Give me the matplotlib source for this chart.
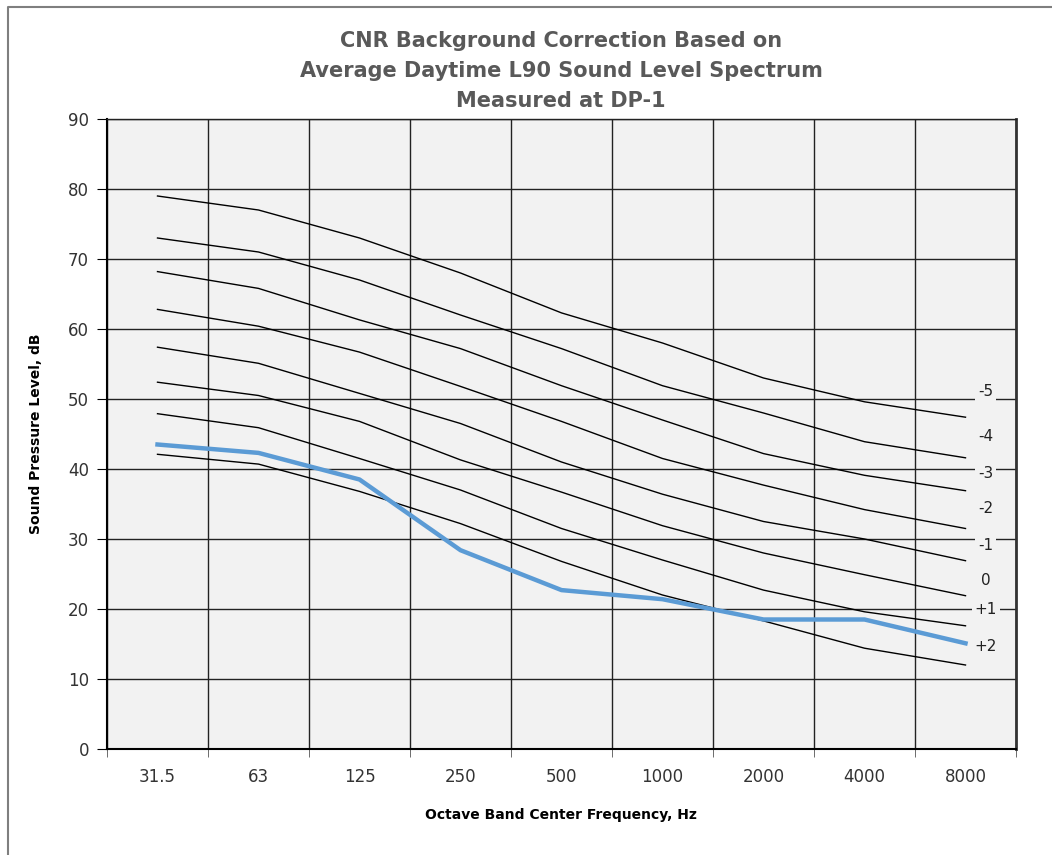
import numpy as np
import matplotlib.pyplot as plt
from matplotlib.lines import Line2D

freqs = ['31.5', '63', '125', '250', '500', '1000', '2000', '4000', '8000']

# CNR correction curves, dB
curve_labels = ['-5', '-4', '-3', '-2', '-1', '0', '+1', '+2']
curve_m5 = [79, 77, 73, 68, 62.3, 58, 53, 49.6, 47.4]
curve_m4 = [73, 71, 67, 62, 57.2, 51.9, 48, 43.9, 41.6]
curve_m3 = [68.2, 65.8, 61.3, 57.2, 51.9, 47, 42.2, 39.1, 36.9]
curve_m2 = [62.8, 60.4, 56.7, 51.8, 46.8, 41.5, 37.7, 34.2, 31.5]
curve_m1 = [57.4, 55.1, 50.8, 46.5, 41, 36.4, 32.5, 30, 26.9]
curve_0 = [52.4, 50.5, 46.8, 41.3, 36.7, 31.9, 28, 24.9, 21.9]
curve_p1 = [47.9, 45.9, 41.5, 37, 31.5, 27, 22.7, 19.6, 17.6]
curve_p2 = [42.1, 40.7, 36.8, 32.2, 26.8, 22, 18.3, 14.4, 12]
curves = [curve_m5, curve_m4, curve_m3, curve_m2, curve_m1, curve_0, curve_p1, curve_p2]
label_y = [51, 44.6, 39.4, 34.4, 29.1, 24.1, 20, 14.6]

# measured L90 spectrum
l90 = [43.5, 42.3, 38.5, 28.4, 22.7, 21.4, 18.5, 18.5, 15.1]

plt.rcParams['font.family'] = ['DejaVu Sans']

fig = plt.figure(figsize=(10.52, 8.55), dpi=100)
ax = fig.add_axes([107/1052, 1 - 749/855, (1016-107)/1052, (749-119)/855])
ax.set_facecolor('#f2f2f2')

x = np.arange(len(freqs))
for c in curves:
    ax.plot(x, c, color='black', lw=1.0, zorder=3)
ax.plot(x, l90, color='#5b9bd5', lw=3.2, zorder=4)

for lab, yy in zip(curve_labels, label_y):
    ax.text(8.2, yy, lab, ha='center', va='center', fontsize=11, color='#222222',
            bbox=dict(facecolor='#f2f2f2', edgecolor='none', pad=2), zorder=5)

ax.set_xlim(-0.5, 8.5)
ax.set_ylim(0, 90)
ax.set_yticks(np.arange(0, 91, 10))
ax.set_xticks(x)
ax.set_xticklabels(freqs)
ax.set_xticks(np.arange(-0.5, 8.6, 1), minor=True)
ax.tick_params(axis='x', which='major', length=0, pad=14, labelsize=12, labelcolor='#333333')
ax.tick_params(axis='x', which='minor', length=6, color='#555555')
ax.tick_params(axis='y', length=7, labelsize=12, labelcolor='#333333', pad=6)
ax.grid(True, axis='y', color='#222222', lw=1.0, zorder=1)
ax.grid(True, axis='x', which='minor', color='#222222', lw=1.0, zorder=1)
ax.set_axisbelow(True)

for s in ['left', 'bottom']:
    ax.spines[s].set_color('black')
    ax.spines[s].set_linewidth(1.5)
ax.spines['top'].set_color('#222222')
ax.spines['top'].set_linewidth(1.0)
ax.spines['right'].set_color('#333333')
ax.spines['right'].set_linewidth(2)

ax.set_ylabel('Sound Pressure Level, dB', fontsize=10, fontweight='bold', labelpad=18)
fig.text(561/1052, 1 - 815/855, 'Octave Band Center Frequency, Hz', ha='center', va='center',
         fontsize=10, fontweight='bold')
fig.text(561/1052, 1 - 71/855, 'CNR Background Correction Based on\nAverage Daytime L90 Sound Level Spectrum\nMeasured at DP-1',
         ha='center', va='center', fontsize=15, fontweight='bold', color='#595959', linespacing=1.6)

# outer frame (top and left only)
fig.add_artist(Line2D([8/1052, 8/1052, 1], [0, 1 - 7/855, 1 - 7/855], color='#7f7f7f', lw=1.5))

fig.savefig('out.png', dpi=100)
